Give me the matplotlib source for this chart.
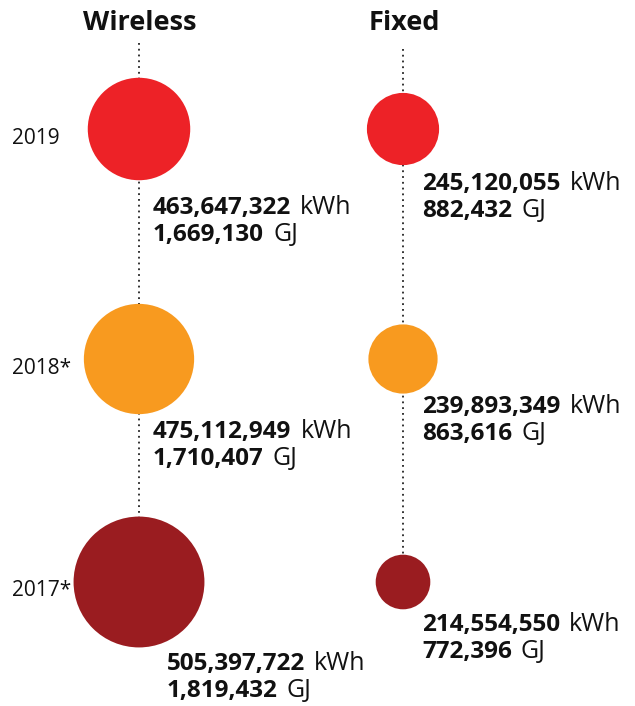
import numpy as np
import matplotlib.pyplot as plt
from matplotlib.patches import Circle

plt.rcParams['font.family'] = ['Open Sans', 'DejaVu Sans']

# data
years = ['2019', '2018*', '2017*']
groups = ['Wireless', 'Fixed']
wireless_kwh = [463647322, 475112949, 505397722]
wireless_gj = [1669130, 1710407, 1819432]
fixed_kwh = [245120055, 239893349, 214554550]
fixed_gj = [882432, 863616, 772396]
colors = ['#ED2227', '#F89A1F', '#9A1C20']

kwh = [wireless_kwh, fixed_kwh]
gj = [wireless_gj, fixed_gj]

# layout (pixels)
col_x = [139, 403]
row_y = [129, 359, 582]
line_top = [43, 49]
lab_dx = [[14, 14, 28], [19, 19, 19]]
lab_dy = [[34, 24, 23], [25, 19, 22]]


def radius(v):
    # hand tuned size scale, kWh -> pixel radius
    return np.interp(v, [210e6, 250e6, 460e6, 510e6], [26, 37.5, 50, 67])


fig = plt.figure(figsize=(6.35, 7.06), dpi=100)
ax = fig.add_axes([0, 0, 1, 1])
ax.set_xlim(0, 635)
ax.set_ylim(706, 0)
ax.axis('off')

for g in range(2):
    x = col_x[g]
    ax.text(x + 1, 23, groups[g], ha='center', va='center', fontsize=19.5,
            fontweight='bold', color='#111111')
    ax.plot([x, x], [line_top[g], row_y[-1]], color='#222222', lw=1.3,
            linestyle=(0, (1, 2.2)), zorder=1)
    for i in range(3):
        r = radius(kwh[g][i])
        y = row_y[i]
        ax.add_patch(Circle((x, y), r, color=colors[i], zorder=2, lw=0))
        tx = x + lab_dx[g][i]
        ty = y + r + lab_dy[g][i]
        for k, (num, unit) in enumerate([(f'{kwh[g][i]:,}', 'kWh'),
                                         (f'{gj[g][i]:,}', 'GJ')]):
            t = ax.text(tx, ty + 27 * k, num, ha='left', va='baseline',
                        fontsize=17.5, fontweight='bold', color='#111111')
            ax.annotate(unit, xy=(1, 0), xycoords=t, xytext=(6.5, 0),
                        textcoords='offset points', ha='left', va='bottom',
                        fontsize=18, color='#111111')

for i in range(3):
    ax.text(12, row_y[i] + 9, years[i], ha='left', va='center', fontsize=15,
            color='#111111')

fig.savefig('out.png', dpi=100)
